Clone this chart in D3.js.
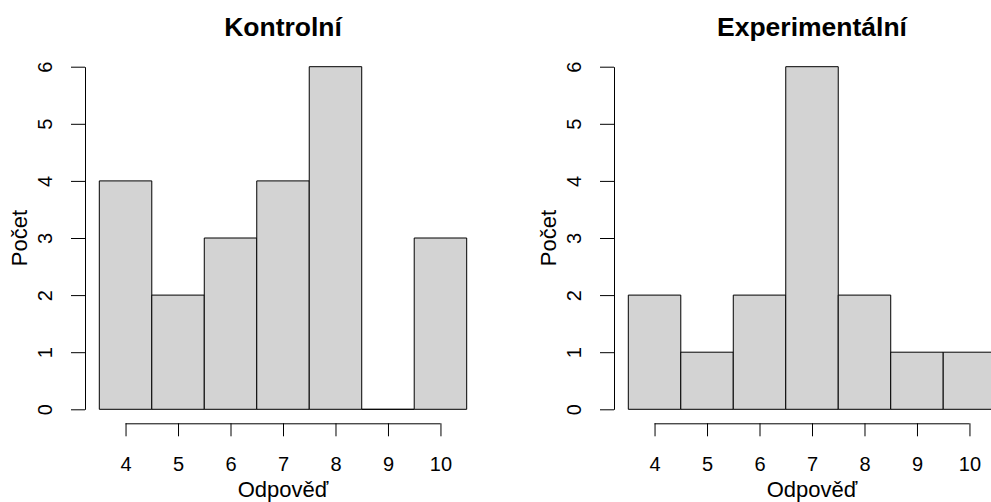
<!DOCTYPE html>
<html>
<head>
<meta charset="utf-8">
<script src="https://cdn.jsdelivr.net/npm/d3@7"></script>
<style>
  html, body { margin: 0; padding: 0; background: #fff; }
  svg { display: block; font-family: "Liberation Sans", Arial, Helvetica, sans-serif; }
</style>
</head>
<body>
<svg id="chart" width="991" height="502"></svg>
<script>
// ---- data ----
const categories = [4, 5, 6, 7, 8, 9, 10];           // answer values (bin centres)
const kontrolni = [4, 2, 3, 4, 6, 0, 3];              // counts, control group
const experimentalni = [2, 1, 2, 6, 2, 1, 1];         // counts, experimental group
const yTicks = [0, 1, 2, 3, 4, 5, 6];
const xTicks = [4, 5, 6, 7, 8, 9, 10];
const titles = ["Kontrolní", "Experimentální"];
const xLabel = "Odpověď";
const yLabel = "Počet";

const svg = d3.select("#chart");

const x = d3.scaleLinear().domain([3.5, 10.5]).range([99.3, 466.7]);
const y = d3.scaleLinear().domain([0, 6]).range([409.3, 66.7]);

const panels = [
  { title: titles[0], values: kontrolni, dx: 0 },
  { title: titles[1], values: experimentalni, dx: 529 }
];

panels.forEach(p => {
  const g = svg.append("g").attr("transform", `translate(${p.dx},0)`);

  // bars (paths so that zero-height bins still draw their baseline)
  g.selectAll("path.bar")
    .data(categories.map((c, i) => ({ c, v: p.values[i] })))
    .enter().append("path")
    .attr("class", "bar")
    .attr("d", d => {
      const x0 = x(d.c - 0.5), x1 = x(d.c + 0.5), y0 = y(0), y1 = y(d.v);
      return `M${x0},${y0}L${x0},${y1}L${x1},${y1}L${x1},${y0}Z`;
    })
    .attr("fill", "#d3d3d3")
    .attr("stroke", "#000")
    .attr("stroke-width", 1);

  // y axis
  const ya = g.append("g")
    .attr("transform", "translate(85,0)")
    .call(d3.axisLeft(y).tickValues(yTicks).tickSize(14).tickSizeOuter(0).tickFormat(d3.format("d")));
  ya.attr("font-family", null).attr("font-size", null);
  ya.selectAll("path, line").attr("stroke", "#000");
  ya.selectAll("text")
    .attr("x", null).attr("dy", null)
    .attr("transform", "translate(-40,0) rotate(-90)")
    .attr("text-anchor", "middle")
    .attr("dominant-baseline", "central")
    .style("font-size", "20px")
    .attr("fill", "#000");

  // x axis
  const xa = g.append("g")
    .attr("transform", "translate(0,423.3)")
    .call(d3.axisBottom(x).tickValues(xTicks).tickSize(13).tickSizeOuter(0).tickFormat(d3.format("d")));
  xa.attr("font-family", null).attr("font-size", null);
  xa.select("path.domain")
    .attr("d", `M${x(xTicks[0])},0.5H${x(xTicks[xTicks.length - 1])}`);
  xa.selectAll("path, line").attr("stroke", "#000");
  xa.selectAll("text")
    .attr("y", null).attr("dy", null)
    .attr("transform", "translate(0,47.5)")
    .attr("text-anchor", "middle")
    .style("font-size", "20px")
    .attr("fill", "#000");

  // title
  g.append("text")
    .attr("x", (x.range()[0] + x.range()[1]) / 2)
    .attr("y", 36)
    .attr("text-anchor", "middle")
    .style("font-size", "26.5px")
    .attr("font-weight", "bold")
    .text(p.title);

  // x label
  g.append("text")
    .attr("x", (x.range()[0] + x.range()[1]) / 2)
    .attr("y", 497.3)
    .attr("text-anchor", "middle")
    .style("font-size", "22px")
    .text(xLabel);

  // y label
  g.append("text")
    .attr("transform", `translate(26.7,${y(3)}) rotate(-90)`)
    .attr("text-anchor", "middle")
    .style("font-size", "22px")
    .text(yLabel);
});
</script>
</body>
</html>
